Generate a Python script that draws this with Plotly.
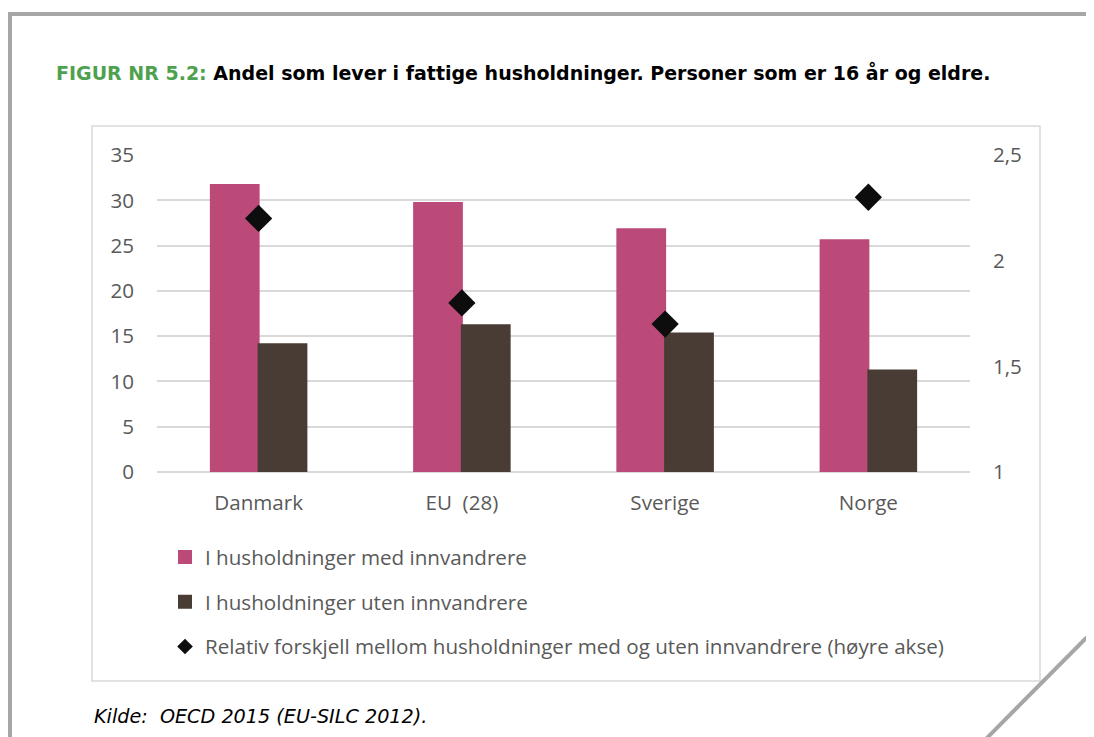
import plotly.graph_objects as go

# page body adds an 8px margin, so the figure is shifted back by that much
OFF = 8
W, H = 1094 - OFF, 737 - OFF

countries = ["Danmark", "EU  (28)", "Sverige", "Norge"]
med_innv = [31.7, 29.7, 26.8, 25.6]
uten_innv = [14.1, 16.2, 15.3, 11.2]
rel_forskjell = [2.2, 1.8, 1.7, 2.3]

names = [
    "I husholdninger med innvandrere",
    "I husholdninger uten innvandrere",
    "Relativ forskjell mellom husholdninger med og uten innvandrere (høyre akse)",
]

PINK = "#BB4A79"
BROWN = "#483C34"
GREY_TXT = "#595959"
GRID = "#D9D9D9"
FRAME = "#A6A6A6"
FONT = "Open Sans"
FS = 20.6


def px(x):
    return (x - OFF) / W


def py(y):
    return 1 - (y - OFF) / H


fig = go.Figure()
fig.add_trace(go.Bar(x=countries, y=med_innv, name=names[0], legendgroup="a",
                     marker=dict(color=PINK, line=dict(color=PINK, width=2))))
fig.add_trace(go.Bar(x=countries, y=uten_innv, name=names[1], legendgroup="b",
                     marker=dict(color=BROWN, line=dict(color=BROWN, width=2))))
fig.add_trace(go.Scatter(x=countries, y=rel_forskjell, name=names[2], yaxis="y2",
                         mode="markers", legendgroup="c",
                         marker=dict(symbol="diamond", size=21, color="#0D0D0D")))

# decorations: page frame, chart box, folded corner
shapes = [
    dict(type="line", xref="paper", yref="paper", x0=px(10), x1=px(1100), y0=py(14), y1=py(14),
         line=dict(color=FRAME, width=4)),
    dict(type="line", xref="paper", yref="paper", x0=px(10), x1=px(10), y0=py(12), y1=py(745),
         line=dict(color=FRAME, width=4)),
    dict(type="line", xref="paper", yref="paper", x0=px(1100), x1=px(982), y0=py(624), y1=py(743),
         line=dict(color=FRAME, width=4)),
    dict(type="rect", xref="paper", yref="paper", x0=px(92), x1=px(1040), y0=py(126), y1=py(681),
         line=dict(color=GRID, width=1.5), layer="below"),
]

fig.update_layout(
    width=W, height=H,
    margin=dict(l=0, r=0, t=0, b=0, autoexpand=False),
    paper_bgcolor="white", plot_bgcolor="white",
    separators=", ",
    barmode="group", bargap=0.53, bargroupgap=0,
    font=dict(family=FONT, color=GREY_TXT, size=FS),
    showlegend=True,
    legend=dict(x=px(165), y=py(537), xanchor="left", yanchor="top",
                font=dict(family=FONT, size=FS, color=GREY_TXT),
                tracegroupgap=15, traceorder="grouped", itemclick=False,
                itemsizing="constant"),
    xaxis=dict(domain=[px(157), px(970)], showgrid=False, showline=False, automargin=False,
               ticks="outside", ticklen=12, tickcolor="rgba(0,0,0,0)",
               tickfont=dict(size=FS, color=GREY_TXT)),
    yaxis=dict(domain=[py(472), py(155)], range=[0, 35], dtick=5, automargin=False,
               showgrid=True, gridcolor=GRID, gridwidth=1.5,
               zeroline=True, zerolinecolor=GRID, zerolinewidth=1.5,
               showline=False, ticklabelstandoff=22,
               tickfont=dict(size=FS, color=GREY_TXT)),
    yaxis2=dict(overlaying="y", side="right", range=[1, 2.5], dtick=0.5, automargin=False,
                showgrid=False, zeroline=False, showline=False, ticklabelstandoff=22,
                tickfont=dict(size=FS, color=GREY_TXT)),
    shapes=shapes,
    annotations=[
        dict(xref="paper", yref="paper", x=px(54), y=py(72), xanchor="left", yanchor="middle",
             showarrow=False,
             text="<b><span style='color:#4EA24F'>FIGUR NR 5.2:</span> Andel som lever i fattige "
                  "husholdninger. Personer som er 16 år og eldre.</b>",
             font=dict(family="DejaVu Sans", size=19, color="black")),
        dict(xref="paper", yref="paper", x=px(92), y=py(716), xanchor="left", yanchor="middle",
             showarrow=False, text="<i>Kilde:  OECD 2015 (EU-SILC 2012).</i>",
             font=dict(family="DejaVu Sans", size=19.2, color="black")),
    ],
)

fig.write_html("out.html")
